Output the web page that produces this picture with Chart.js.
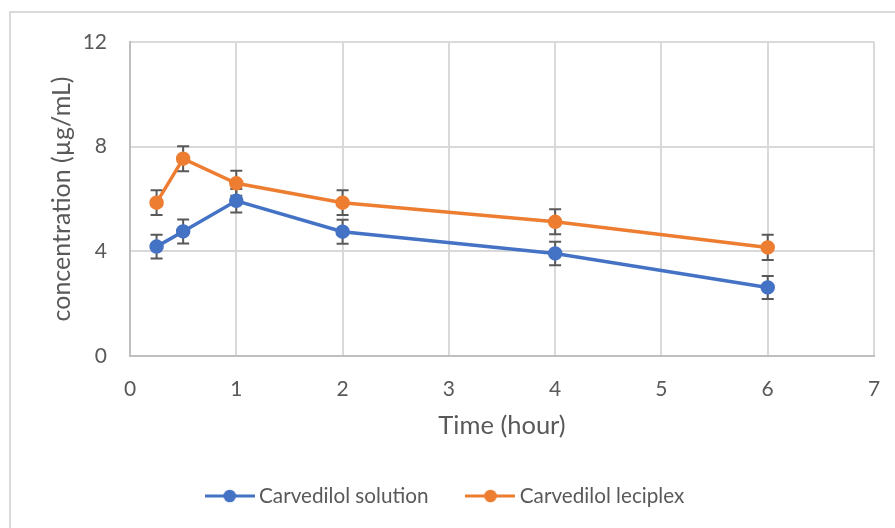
<!DOCTYPE html>
<html><head><meta charset="utf-8">
<script src="https://cdn.jsdelivr.net/npm/chart.js@4.4.0/dist/chart.umd.min.js"></script>
<style>html,body{margin:0;padding:0;background:#fff;overflow:hidden;}#wrap{width:895px;height:528px;}</style>
</head><body><div id="wrap"><canvas id="c" width="895" height="528"></canvas></div>
<script>
// ---- data ----
const timeHours    = [0.25, 0.5, 1, 2, 4, 6];
const solutionConc = [4.18, 4.76, 5.93, 4.75, 3.92, 2.62];
const solutionErr  = [0.45, 0.46, 0.45, 0.46, 0.45, 0.44];
const leciplexConc = [5.86, 7.54, 6.60, 5.86, 5.13, 4.15];
const leciplexErr  = [0.47, 0.48, 0.48, 0.47, 0.48, 0.48];
const seriesNames  = ['Carvedilol solution', 'Carvedilol leciplex'];
const seriesColors = ['#4472C4', '#ED7D31'];
const xTicks = [0, 1, 2, 3, 4, 5, 6, 7];
const yTicks = [0, 4, 8, 12];
const xTitle = 'Time (hour)';
const yTitle = 'concentration (µg/mL)';

// ---- style / layout ----
const FONT = 'Lato';
const TXT = '#595959';
const LEG_FS = 20.7, LEG_PAD = 43;
const PAD_BOTTOM = 528 - 496 - 10 - LEG_FS / 2;
const X_AXIS_H = 528 - PAD_BOTTOM - (LEG_FS + LEG_PAD + 10) - 356;
const XT_FS = 25.5, XT_LH = XT_FS * 1.2;
const YT_FS = 25, YT_LH = YT_FS * 1.2;

function legendIcon(color) {
  const c = document.createElement('canvas');
  c.width = 50; c.height = 14;
  const g = c.getContext('2d');
  g.strokeStyle = color; g.lineWidth = 3;
  g.beginPath(); g.moveTo(0, 7); g.lineTo(50, 7); g.stroke();
  g.fillStyle = color;
  g.beginPath(); g.arc(25, 7, 6.3, 0, Math.PI * 2); g.fill();
  return c;
}
const icons = seriesColors.map(legendIcon);

const mk = (xs, ys) => xs.map((x, i) => ({x, y: ys[i]}));

const frame = {
  id: 'frame',
  afterLayout(chart) {
    if (chart.legend) chart.legend.left += 11;
  },
  beforeDraw(chart) {
    const ctx = chart.ctx;
    ctx.save();
    ctx.fillStyle = '#fff';
    ctx.fillRect(0, 0, chart.width, chart.height);
    ctx.strokeStyle = '#d9d9d9';
    ctx.lineWidth = 2;
    ctx.strokeRect(10, 12, 1000, 1000);
    ctx.restore();
  }
};

const errorBars = {
  id: 'errorBars',
  beforeDatasetsDraw(chart) {
    const {ctx, scales: {x, y}} = chart;
    ctx.save();
    ctx.strokeStyle = '#595959';
    ctx.lineWidth = 2;
    chart.data.datasets.forEach(ds => {
      ds.data.forEach((pt, i) => {
        const e = ds.errorValues[i];
        const px = x.getPixelForValue(pt.x);
        const t = y.getPixelForValue(pt.y + e);
        const b = y.getPixelForValue(pt.y - e);
        ctx.beginPath();
        ctx.moveTo(px, t); ctx.lineTo(px, b);
        ctx.moveTo(px - 6, t); ctx.lineTo(px + 6, t);
        ctx.moveTo(px - 6, b); ctx.lineTo(px + 6, b);
        ctx.stroke();
      });
    });
    ctx.restore();
  }
};

const dsStyle = (color) => ({
  borderColor: color, backgroundColor: color,
  borderWidth: 3.5, pointRadius: 6.5, pointBorderWidth: 1.5,
  pointBackgroundColor: color, pointBorderColor: color,
  pointHoverRadius: 6.5, tension: 0, fill: false
});

new Chart(document.getElementById('c'), {
  type: 'line',
  data: {
    datasets: [
      Object.assign({label: seriesNames[0], data: mk(timeHours, solutionConc), errorValues: solutionErr}, dsStyle(seriesColors[0])),
      Object.assign({label: seriesNames[1], data: mk(timeHours, leciplexConc), errorValues: leciplexErr}, dsStyle(seriesColors[1]))
    ]
  },
  options: {
    responsive: false,
    animation: false,
    events: [],
    layout: {padding: {left: 10, right: 21, top: 42, bottom: PAD_BOTTOM}},
    plugins: {
      tooltip: {enabled: false},
      legend: {
        position: 'bottom',
        labels: {
          usePointStyle: true,
          pointStyleWidth: 38,
          padding: LEG_PAD,
          color: TXT,
          font: {family: FONT, size: LEG_FS},
          generateLabels(chart) {
            const items = Chart.defaults.plugins.legend.labels.generateLabels(chart);
            items.forEach((it, i) => { it.pointStyle = icons[i]; it.fontColor = TXT; });
            return items;
          }
        }
      }
    },
    scales: {
      x: {
        type: 'linear', min: xTicks[0], max: xTicks[xTicks.length - 1],
        afterBuildTicks: s => { s.ticks = xTicks.map(v => ({value: v})); },
        afterFit: s => { s.height = X_AXIS_H; s.paddingLeft = 0; s.paddingRight = 0; },
        grid: {color: '#d9d9d9', lineWidth: 2, drawTicks: false},
        border: {color: '#bfbfbf', width: 2},
        ticks: {color: TXT, font: {family: FONT, size: 21}, padding: 21},
        title: {display: true, text: xTitle, color: TXT, font: {family: FONT, size: XT_FS},
                padding: {top: 0, bottom: 356 + X_AXIS_H - 426 - XT_LH / 2}}
      },
      y: {
        type: 'linear', min: yTicks[0], max: yTicks[yTicks.length - 1],
        afterBuildTicks: s => { s.ticks = yTicks.map(v => ({value: v})); },
        afterFit: s => { s.width = 120; },
        grid: {color: '#d9d9d9', lineWidth: 2, drawTicks: false},
        border: {color: '#bfbfbf', width: 2},
        ticks: {color: TXT, font: {family: FONT, size: 21}, padding: 23},
        title: {display: true, text: yTitle, color: TXT, font: {family: FONT, size: YT_FS},
                padding: {top: 62 - 10 - YT_LH / 2, bottom: 0}}
      }
    }
  },
  plugins: [frame, errorBars]
});
</script></body></html>
